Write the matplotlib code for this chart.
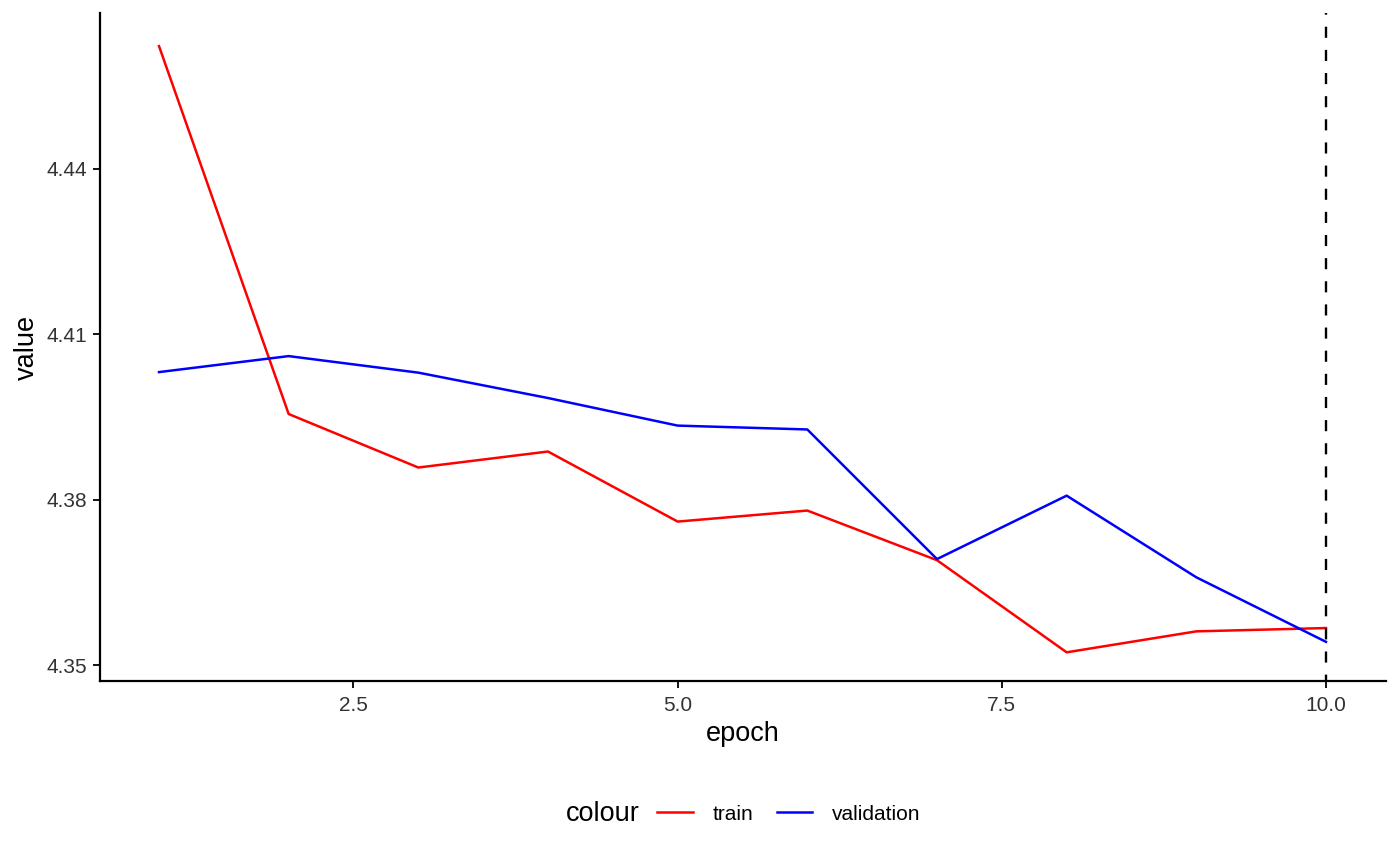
import matplotlib
matplotlib.use("Agg")
import matplotlib.pyplot as plt
from matplotlib.lines import Line2D

plt.rcParams['font.family'] = ['Liberation Sans', 'DejaVu Sans']

epochs = [1, 2, 3, 4, 5, 6, 7, 8, 9, 10]
train = [4.4622, 4.3955, 4.3858, 4.3887, 4.3760, 4.3780, 4.3690, 4.3523, 4.3561, 4.3567]
validation = [4.4031, 4.4060, 4.4030, 4.3984, 4.3934, 4.3927, 4.3692, 4.3807, 4.3659, 4.3542]
best_epoch = 10
xticks = [2.5, 5.0, 7.5, 10.0]
yticks = [4.35, 4.38, 4.41, 4.44]

W, H = 1400, 865
fig = plt.figure(figsize=(14, 8.65), dpi=100)
ax = fig.add_axes([100/W, 1 - 681/H, 1286/W, 668/H])

ax.plot(epochs, train, color='#FF0000', lw=1.8, label='train')
ax.plot(epochs, validation, color='#0000FF', lw=1.8, label='validation')
ax.axvline(best_epoch, color='black', lw=1.7, ls=(2, (4.7, 5.1)))

ax.set_xlim(0.545, 10.463)
ax.set_ylim(4.3471, 4.4682)
ax.set_xticks(xticks)
ax.set_xticklabels([f"{t:.1f}" for t in xticks])
ax.set_yticks(yticks)
ax.set_yticklabels([f"{t:.2f}" for t in yticks])

for s in ['top', 'right']:
    ax.spines[s].set_visible(False)
for s in ['left', 'bottom']:
    ax.spines[s].set_linewidth(1.6)
ax.tick_params(axis='both', length=5, width=1.3, labelsize=15, labelcolor='#333333')
ax.tick_params(axis='x', pad=6)
ax.tick_params(axis='y', pad=4)

ax.set_xlabel('epoch', fontsize=19.5, labelpad=4)
ax.set_ylabel('value', fontsize=19.5, labelpad=5)

fig.text(566/W, 1 - 814/H, 'colour', fontsize=19.5, ha='left', va='center')
handles = [Line2D([0], [0], color='#FF0000', lw=1.8),
           Line2D([0], [0], color='#0000FF', lw=1.8)]
leg = fig.legend(handles, ['train', 'validation'], loc='center left',
                 bbox_to_anchor=(657/W, 1 - 814/H), ncol=2, frameon=False,
                 fontsize=15, borderpad=0, borderaxespad=0,
                 handlelength=1.72, columnspacing=1.1, handletextpad=0.96)

fig.savefig('out.png', dpi=100)
